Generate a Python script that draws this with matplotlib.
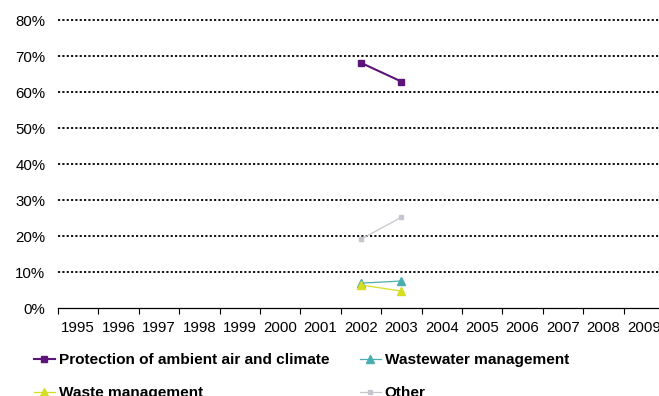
import numpy as np
import matplotlib.pyplot as plt

plt.rcParams['font.family'] = ['Liberation Sans', 'DejaVu Sans']

years = [str(y) for y in range(1995, 2010)]
nan = np.nan
# shares, only 2002 and 2003 reported
air = [nan] * 7 + [0.681, 0.629] + [nan] * 6
wastewater = [nan] * 7 + [0.069, 0.075] + [nan] * 6
waste = [nan] * 7 + [0.064, 0.047] + [nan] * 6
other = [nan] * 7 + [0.191, 0.252] + [nan] * 6

fig = plt.figure(figsize=(6.59, 3.96), dpi=100)
ax = fig.add_axes([58 / 659, 1 - 308 / 396, 606 / 659, 288 / 396])

x = np.arange(len(years))
l1, = ax.plot(x, air, color='#5C1478', lw=1.5, marker='s', ms=5, label='Protection of ambient air and climate')
l2, = ax.plot(x, wastewater, color='#4AADB0', lw=0.9, marker='^', ms=5.5, label='Wastewater management')
l3, = ax.plot(x, waste, color='#D6DE22', lw=0.9, marker='^', ms=5.5, label='Waste management')
l4, = ax.plot(x, other, color='#C6C6CE', lw=0.9, marker='s', ms=3.5, label='Other')

ax.set_xlim(-0.5, len(years) - 0.5)
ax.set_ylim(0, 0.8)
yt = np.arange(0, 0.81, 0.1)
ax.set_yticks(yt)
ax.set_yticklabels(['%d%%' % round(v * 100) for v in yt])
for v in yt[1:]:
    ax.axhline(v, color='black', lw=1.3, ls=(0, (1.2, 1.2)), zorder=0, clip_on=False)

ax.set_xticks(np.arange(-0.5, len(years)))
ax.set_xticklabels([])
ax.set_xticks(x, minor=True)
ax.set_xticklabels(years, minor=True)
ax.tick_params(axis='x', which='major', length=4, width=0.8, direction='out')
ax.tick_params(axis='x', which='minor', length=0, pad=9.5, labelsize=10.8)
ax.tick_params(axis='y', length=0, pad=9, labelsize=10.8)

for s in ['top', 'right', 'left']:
    ax.spines[s].set_visible(False)
ax.spines['bottom'].set_linewidth(0.9)

# legend fills column-first, so order to get row-wise layout
fig.legend([l1, l3, l2, l4], [l.get_label() for l in (l1, l3, l2, l4)],
           loc='upper left', bbox_to_anchor=(34 / 659, 1 - 353 / 396), ncol=2,
           frameon=False, borderpad=0, borderaxespad=0, handlelength=1.35,
           handletextpad=0.25, columnspacing=2.0, labelspacing=1.25,
           prop={'weight': 'bold', 'size': 11.1})

fig.savefig('out.png', dpi=100)
